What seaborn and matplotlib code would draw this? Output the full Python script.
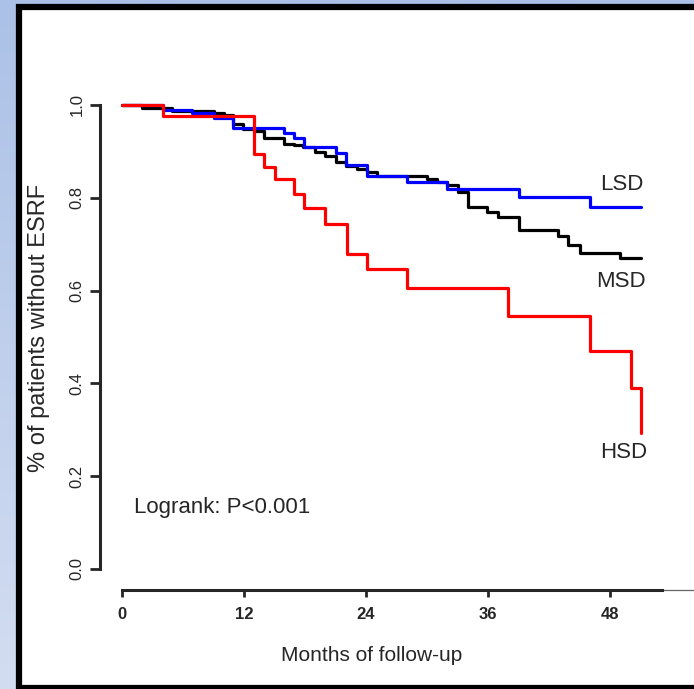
"""
Kaplan-Meier style survival curves: % of patients without ESRF by
LSD / MSD / HSD group over months of follow-up.
"""

import numpy as np
import matplotlib
matplotlib.use("Agg")
import matplotlib.pyplot as plt
import matplotlib.patches as patches
import seaborn as sns

# ─────────────────────────────────────────────────────────────────────────────
GROUPS = ["LSD", "MSD", "HSD"]
COLORS = {"LSD": "#0000ff", "MSD": "#000000", "HSD": "#ff0000"}

lsd_months = [0, 4.0, 6.9, 9.0, 10.9, 15.9, 16.9, 17.9, 21.0, 22.0, 24.1,
              28.0, 32.0, 39.0, 46.0, 51.0]
lsd_surv = [1.0, 0.990, 0.982, 0.971, 0.950, 0.940, 0.928, 0.909, 0.896,
            0.871, 0.847, 0.835, 0.818, 0.801, 0.780, 0.780]

msd_months = [0, 2.0, 4.9, 9.0, 10.0, 10.9, 11.9, 13.0, 14.0, 15.9, 16.9,
              17.8, 19.0, 20.0, 21.0, 22.0, 23.1, 24.1, 25.1, 30.0, 31.0,
              32.0, 33.0, 34.0, 35.9, 37.0, 39.0, 42.9, 43.9, 45.0, 49.0, 51.0]
msd_surv = [1.0, 0.994, 0.988, 0.983, 0.978, 0.960, 0.948, 0.944, 0.929,
            0.917, 0.914, 0.909, 0.899, 0.890, 0.878, 0.869, 0.862, 0.856,
            0.847, 0.840, 0.835, 0.828, 0.813, 0.780, 0.770, 0.759, 0.731,
            0.718, 0.698, 0.682, 0.670, 0.670]

hsd_months = [0, 4.0, 13.0, 14.0, 15.0, 16.9, 17.9, 20.0, 22.1, 24.1, 28.0,
              38.0, 46.0, 50.1, 51.0]
hsd_surv = [1.0, 0.977, 0.894, 0.867, 0.840, 0.808, 0.778, 0.744, 0.679,
            0.647, 0.606, 0.545, 0.470, 0.390, 0.293]

x_ticks = [0, 12, 24, 36, 48]
y_ticks = [0.0, 0.2, 0.4, 0.6, 0.8, 1.0]
y_ticklabels = ["0.0", "0.2", "0.4", "0.6", "0.8", "1.0"]

# label positions (month, survival) for the group names
label_pos = {"LSD": (49.2, 0.828), "MSD": (49.1, 0.619), "HSD": (49.3, 0.250)}

# ─────────────────────────────────────────────────────────────────────────────
sns.set_style("white")
plt.rcParams["font.family"] = ["Liberation Sans", "DejaVu Sans"]

W, H = 694, 689
fig = plt.figure(figsize=(W / 100, H / 100), dpi=100)

# slide-like background: light blue gradient + black framed white panel
bg = fig.add_axes([0, 0, 1, 1], zorder=-10)
grad = np.linspace(0, 1, 256).reshape(-1, 1)
cmap = matplotlib.colors.LinearSegmentedColormap.from_list(
    "bg", ["#abc1e7", "#d3ddf1"])
bg.imshow(grad, aspect="auto", cmap=cmap, extent=[0, 1, 0, 1])
bg.add_patch(patches.Rectangle((19 / W, 1 / H), 1.0, (H - 8) / H,
                               facecolor="white", edgecolor="black",
                               linewidth=4.5, transform=bg.transAxes))
bg.set_xlim(0, 1)
bg.set_ylim(0, 1)
bg.axis("off")

# main plot axes: spine positions chosen to match pixel layout
x0_px, mpx = 122, 122 / 12       # month 0 pixel, pixels per month
y0_px, ypx = 569, 464            # survival 0 pixel, pixels per 1.0
left_px, right_px, top_px, bot_px = 100, W, 90, 590
ax_w, ax_h = right_px - left_px, bot_px - top_px

ax = fig.add_axes([left_px / W, (H - bot_px) / H, ax_w / W, ax_h / H])
ax.set_facecolor("none")
ax.set_xlim((left_px - x0_px) / mpx, (right_px - x0_px) / mpx)
ax.set_ylim((y0_px - bot_px) / ypx, (y0_px - top_px) / ypx)

series = {
    "MSD": (msd_months, msd_surv),
    "LSD": (lsd_months, lsd_surv),
    "HSD": (hsd_months, hsd_surv),
}
for name, (t, s) in series.items():
    sns.lineplot(x=t, y=s, ax=ax, color=COLORS[name], lw=2.3,
                 drawstyle="steps-post", estimator=None, sort=False)

for name in GROUPS:
    mx, sy = label_pos[name]
    ax.text(mx, sy, name, fontsize=16, ha="center", va="center")

ax.text(1.2, 0.132, "Logrank: P<0.001", fontsize=16, ha="left", va="center")

# R-style detached axes
for side in ["top", "right"]:
    ax.spines[side].set_visible(False)
ax.spines["left"].set_bounds(0, 1)
ax.spines["bottom"].set_bounds(0, 53.1)
ax.spines["left"].set_linewidth(2.2)
ax.spines["bottom"].set_linewidth(2.2)
ax.plot([53.1, ax.get_xlim()[1]], [ax.get_ylim()[0]] * 2, color="#666666",
        lw=0.9, clip_on=False)

ax.set_xticks(x_ticks)
ax.set_xticklabels([str(v) for v in x_ticks], fontsize=12, fontweight="bold")
ax.set_yticks(y_ticks)
ax.set_yticklabels(y_ticklabels, fontsize=12, rotation=90, va="center")
ax.tick_params(axis="x", length=5, width=2, pad=7, direction="out", bottom=True)
ax.tick_params(axis="y", length=7, width=2, pad=4, direction="out", left=True)

ax.set_xlabel("Months of follow-up", fontsize=15)
ax.set_ylabel("% of patients without ESRF", fontsize=17)
ax.xaxis.set_label_coords((372 - left_px) / ax_w, (bot_px - 646) / ax_h)
ax.yaxis.set_label_coords((50 - left_px) / ax_w, (bot_px - 328) / ax_h)

plt.savefig("out.png", dpi=100)
plt.close()
